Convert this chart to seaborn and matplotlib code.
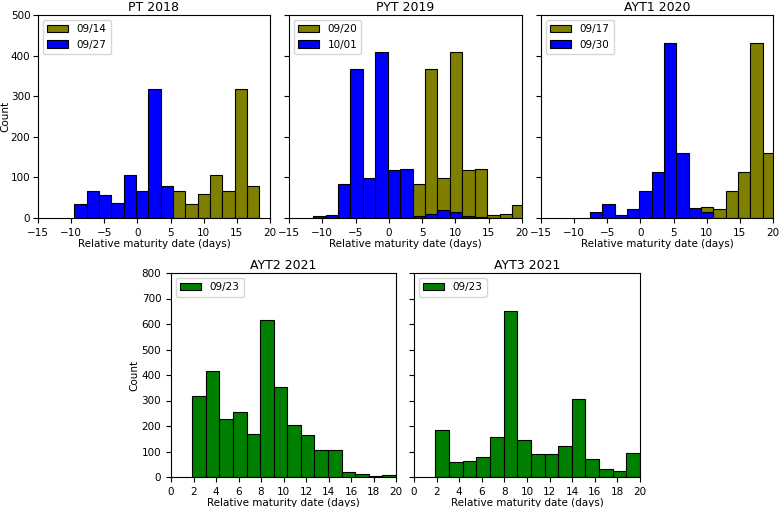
import numpy as np
import pandas as pd
import matplotlib
matplotlib.use('Agg')
import matplotlib.pyplot as plt
import seaborn as sns

# bin edges (days), and counts per bin
pt_edges = [-9.52, -7.66, -5.80, -3.94, -2.08, -0.22, 1.64, 3.50, 5.36,
            7.22, 9.08, 10.94, 12.80, 14.66, 16.52, 18.38]
pt_early = [0, 0, 0, 0, 0, 0, 0, 0, 66, 34, 60, 105, 66, 318, 78]   # 09/14
pt_late = [34, 66, 57, 37, 105, 66, 318, 78, 0, 0, 0, 0, 0, 0, 0]   # 09/27

pyt_edges = [-11.37, -9.50, -7.64, -5.77, -3.90, -2.04, -0.17, 1.70, 3.56,
             5.43, 7.30, 9.16, 11.03, 12.90, 14.76, 16.63, 18.50, 20.36]
pyt_early = [0, 0, 0, 0, 0, 0, 0, 0, 83, 367, 98, 410, 118, 121, 8, 11, 31]   # 09/20
pyt_late = [5, 7, 83, 367, 98, 410, 118, 121, 5, 11, 19, 16, 6, 2, 0, 0, 0]   # 10/01

ayt1_edges = [-7.62, -5.76, -3.90, -2.04, -0.18, 1.68, 3.54, 5.40, 7.26,
              9.12, 10.98, 12.84, 14.70, 16.56, 18.42, 20.28]
ayt1_early = [0, 0, 0, 0, 0, 0, 0, 0, 0, 28, 21, 66, 114, 432, 160]   # 09/17
ayt1_late = [16, 35, 7, 21, 66, 114, 432, 160, 25, 16, 0, 0, 0, 0, 0]  # 09/30

ayt_edges = [1.89, 3.10, 4.30, 5.51, 6.72, 7.93, 9.13, 10.34, 11.55,
             12.75, 13.96, 15.17, 16.38, 17.58, 18.79, 20.0]
ayt2_counts = [317, 414, 229, 254, 170, 615, 353, 205, 164, 105, 105, 18, 10, 4, 8]
ayt3_counts = [186, 58, 62, 80, 156, 652, 147, 92, 92, 121, 306, 70, 33, 25, 96]

fig = plt.figure(figsize=(7.79, 5.07), dpi=100)
plt.rcParams['font.size'] = 7.5

W, H = 779, 507
def box(l, t, r, b):
    return [l / W, (H - b) / H, (r - l) / W, (b - t) / H]

def hist(ax, edges, counts, color, label):
    centers = [(a + b) / 2 for a, b in zip(edges[:-1], edges[1:])]
    df = pd.DataFrame({'x': centers, 'w': counts})
    sns.histplot(data=df, x='x', weights='w', bins=list(edges), color=color,
                 edgecolor='black', linewidth=0.8, alpha=1, ax=ax, label=label)

top = [('PT 2018', pt_edges, pt_early, pt_late, '09/14', '09/27'),
       ('PYT 2019', pyt_edges, pyt_early, pyt_late, '09/20', '10/01'),
       ('AYT1 2020', ayt1_edges, ayt1_early, ayt1_late, '09/17', '09/30')]
lefts = [(38, 270), (289, 522), (541, 773)]

for i, (title, edges, early, late, l1, l2) in enumerate(top):
    ax = fig.add_axes(box(lefts[i][0], 15, lefts[i][1], 218))
    hist(ax, edges, early, '#808000', l1)
    hist(ax, edges, late, '#0000ff', l2)
    ax.set_xlim(-15, 20)
    ax.set_ylim(0, 500)
    ax.set_xticks(range(-15, 21, 5))
    ax.set_yticks(range(0, 501, 100))
    ax.set_title(title, fontsize=9, pad=3)
    ax.set_xlabel('Relative maturity date (days)', labelpad=1)
    if i == 0:
        ax.tick_params(axis='y', pad=2)
        ax.set_ylabel('Count', labelpad=0)
    else:
        ax.set_ylabel('')
        ax.set_yticklabels([])
    ax.legend(loc='upper left', fontsize=7.5)

bottom = [('AYT2 2021', ayt2_counts, (171, 396)), ('AYT3 2021', ayt3_counts, (414, 640))]
for i, (title, counts, lr) in enumerate(bottom):
    ax = fig.add_axes(box(lr[0], 273, lr[1], 477))
    hist(ax, ayt_edges, counts, '#008000', '09/23')
    ax.set_xlim(0, 20)
    ax.set_ylim(0, 800)
    ax.set_xticks(range(0, 21, 2))
    ax.set_yticks(range(0, 801, 100))
    ax.set_title(title, fontsize=9, pad=3)
    ax.set_xlabel('Relative maturity date (days)', labelpad=1)
    if i == 0:
        ax.set_ylabel('Count', labelpad=2)
    else:
        ax.set_ylabel('')
        ax.set_yticklabels([])
    ax.legend(loc='upper left', fontsize=7.5)

fig.savefig('out.png', dpi=100)
